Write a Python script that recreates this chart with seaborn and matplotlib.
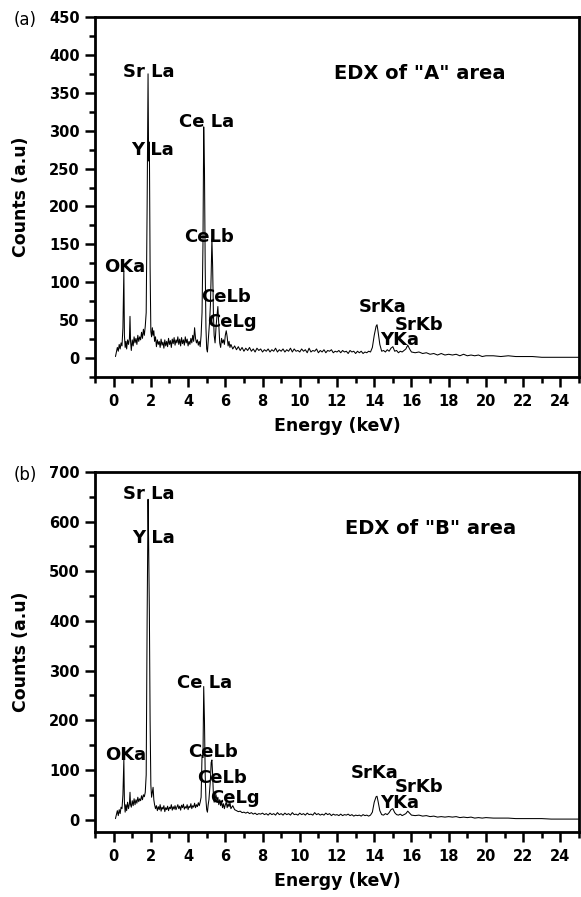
import matplotlib
matplotlib.use('Agg')
import matplotlib.pyplot as plt
from matplotlib.ticker import MultipleLocator
import seaborn as sns

# energy grid (keV), shared by both spectra
energy = [
    0.10, 0.15, 0.20, 0.25, 0.30, 0.35, 0.40, 0.45, 0.50, 0.55,
    0.58, 0.62, 0.66, 0.70, 0.75, 0.80, 0.85, 0.88, 0.91, 0.95,
    1.00, 1.05, 1.10, 1.15, 1.20, 1.25, 1.30, 1.35, 1.40, 1.45,
    1.50, 1.55, 1.60, 1.65, 1.70, 1.75, 1.80, 1.85, 1.88, 1.92,
    1.96, 2.00, 2.04, 2.08, 2.12, 2.16, 2.20, 2.25, 2.30, 2.35,
    2.40, 2.45, 2.50, 2.55, 2.60, 2.65, 2.70, 2.75, 2.80, 2.85,
    2.90, 2.95, 3.00, 3.05, 3.10, 3.15, 3.20, 3.25, 3.30, 3.35,
    3.40, 3.45, 3.50, 3.55, 3.60, 3.65, 3.70, 3.75, 3.80, 3.85,
    3.90, 3.95, 4.00, 4.05, 4.10, 4.15, 4.20, 4.25, 4.30, 4.35,
    4.40, 4.45, 4.50, 4.55, 4.60, 4.65, 4.70, 4.75, 4.80, 4.84,
    4.88, 4.92, 4.96, 5.00, 5.04, 5.08, 5.12, 5.16, 5.20, 5.24,
    5.28, 5.32, 5.36, 5.40, 5.45, 5.50, 5.55, 5.60, 5.65, 5.70,
    5.75, 5.80, 5.85, 5.90, 5.95, 6.00, 6.05, 6.10, 6.15, 6.20,
    6.25, 6.30, 6.40, 6.50, 6.60, 6.70, 6.80, 6.90, 7.00, 7.10,
    7.20, 7.30, 7.40, 7.50, 7.60, 7.70, 7.80, 7.90, 8.00, 8.10,
    8.20, 8.30, 8.40, 8.50, 8.60, 8.70, 8.80, 8.90, 9.00, 9.10,
    9.20, 9.30, 9.40, 9.50, 9.60, 9.70, 9.80, 9.90, 10.00, 10.10,
    10.20, 10.30, 10.40, 10.50, 10.60, 10.70, 10.80, 10.90, 11.00, 11.10,
    11.20, 11.30, 11.40, 11.50, 11.60, 11.70, 11.80, 11.90, 12.00, 12.10,
    12.20, 12.30, 12.40, 12.50, 12.60, 12.70, 12.80, 12.90, 13.00, 13.10,
    13.20, 13.30, 13.40, 13.50, 13.60, 13.70, 13.80, 13.90, 14.00, 14.10,
    14.15, 14.20, 14.30, 14.40, 14.50, 14.60, 14.70, 14.80, 14.90, 15.00,
    15.10, 15.20, 15.30, 15.40, 15.50, 15.60, 15.70, 15.80, 15.90, 16.00,
    16.20, 16.40, 16.60, 16.80, 17.00, 17.20, 17.40, 17.60, 17.80, 18.00,
    18.20, 18.40, 18.60, 18.80, 19.00, 19.20, 19.40, 19.60, 19.80, 20.00,
    20.40, 20.80, 21.20, 21.60, 22.00, 22.50, 23.00, 23.50, 24.00, 25.00,
]

# counts
counts_a = [
    2, 8, 14, 9, 18, 12, 20, 16, 40, 115,
    30, 14, 22, 12, 24, 18, 26, 55, 22, 10,
    24, 16, 28, 20, 26, 18, 30, 22, 28, 24,
    34, 26, 38, 30, 42, 60, 200, 375, 260, 285,
    120, 35, 28, 40, 30, 36, 22, 28, 15, 24,
    18, 22, 14, 25, 17, 21, 13, 24, 16, 22,
    15, 26, 18, 23, 14, 25, 19, 27, 17, 24,
    20, 28, 18, 25, 16, 27, 19, 24, 17, 28,
    20, 25, 16, 22, 18, 26, 20, 30, 22, 40,
    26, 20, 24, 17, 22, 15, 30, 60, 150, 305,
    250, 120, 40, 12, 8, 22, 35, 50, 70, 110,
    157, 120, 60, 30, 20, 40, 55, 68, 45, 20,
    14, 26, 20, 24, 18, 30, 36, 28, 16, 22,
    14, 18, 12, 16, 11, 15, 10, 14, 9, 13,
    10, 14, 9, 12, 8, 13, 10, 12, 8, 11,
    9, 12, 8, 11, 9, 13, 8, 11, 9, 12,
    8, 11, 9, 13, 8, 12, 9, 10, 8, 12,
    9, 11, 7, 13, 8, 10, 9, 12, 7, 10,
    8, 11, 7, 10, 9, 11, 7, 9, 8, 10,
    7, 10, 8, 9, 6, 10, 8, 9, 6, 9,
    7, 9, 6, 8, 7, 9, 8, 14, 30, 42,
    44, 36, 18, 9, 10, 8, 11, 9, 13, 15,
    9, 10, 7, 9, 8, 10, 12, 17, 12, 8,
    7, 8, 6, 7, 5, 6, 4, 6, 4, 5,
    4, 5, 3, 5, 3, 4, 3, 4, 2, 3,
    3, 2, 3, 2, 2, 2, 1, 1, 1, 1,
]

# counts
counts_b = [
    2, 10, 18, 8, 20, 12, 25, 22, 50, 120,
    35, 15, 30, 18, 35, 22, 32, 55, 30, 25,
    38, 28, 42, 30, 40, 33, 45, 36, 42, 38,
    48, 40, 50, 46, 55, 90, 400, 645, 560, 420,
    200, 70, 45, 55, 65, 40, 30, 22, 28, 18,
    26, 20, 30, 17, 25, 21, 28, 16, 24, 20,
    27, 18, 25, 22, 30, 19, 26, 21, 28, 20,
    25, 30, 22, 27, 19, 29, 24, 31, 21, 26,
    23, 30, 20, 27, 24, 32, 22, 28, 25, 33,
    24, 30, 26, 34, 28, 35, 45, 130, 125, 268,
    200, 90, 40, 20, 15, 30, 40, 60, 80, 115,
    120, 90, 50, 35, 42, 50, 38, 45, 30, 40,
    28, 36, 24, 32, 22, 30, 35, 24, 32, 26,
    34, 22, 28, 20, 18, 16, 17, 14, 15, 13,
    15, 12, 14, 11, 13, 10, 12, 11, 13, 10,
    12, 9, 13, 10, 12, 9, 14, 10, 12, 9,
    13, 10, 12, 9, 14, 10, 11, 9, 13, 10,
    12, 9, 13, 10, 11, 9, 14, 10, 12, 9,
    11, 9, 13, 10, 12, 8, 11, 9, 10, 8,
    11, 8, 10, 9, 11, 8, 10, 7, 9, 8,
    9, 7, 10, 8, 9, 7, 9, 15, 35, 46,
    47, 38, 18, 10, 9, 12, 10, 14, 20, 22,
    14, 10, 9, 11, 8, 10, 12, 17, 13, 9,
    8, 9, 7, 8, 6, 7, 5, 6, 5, 6,
    5, 6, 4, 5, 4, 5, 3, 4, 3, 4,
    3, 3, 3, 2, 2, 2, 2, 1, 1, 1,
]

# peak labels: text, x (keV), y (counts)
labels_a = ['Sr La', 'Y La', 'Ce La', 'CeLb', 'OKa', 'CeLb', 'CeLg', 'SrKa', 'SrKb', 'YKa']
lab_x_a = [1.90, 2.09, 4.98, 5.14, 0.57, 6.06, 6.37, 14.44, 16.43, 15.38]
lab_y_a = [378, 274, 312, 160, 120, 81, 47, 68, 44, 24]

labels_b = ['Sr La', 'Y La', 'Ce La', 'CeLb', 'OKa', 'CeLb', 'CeLg', 'SrKa', 'SrKb', 'YKa']
lab_x_b = [1.90, 2.13, 4.89, 5.36, 0.67, 5.82, 6.53, 14.03, 16.43, 15.38]
lab_y_b = [655, 568, 275, 136, 131, 84, 44, 94, 65, 34]

titles = ['EDX of "A" area', 'EDX of "B" area']
title_x = [16.45, 17.02]
title_y = [376, 587]
panel_tags = ['(a)', '(b)']
ymax = [450, 700]
ystep = [50, 100]

sns.set_style('ticks')
plt.rcParams['font.family'] = ['DejaVu Sans']
plt.rcParams.update({'text.color': 'black', 'axes.labelcolor': 'black',
                     'xtick.color': 'black', 'ytick.color': 'black',
                     'axes.edgecolor': 'black'})

fig = plt.figure(figsize=(5.81, 8.97), dpi=100)
ax1 = fig.add_axes([95/581, 1-377/897, 484/581, 360/897])
ax2 = fig.add_axes([95/581, 1-832/897, 484/581, 360/897])

spectra = [counts_a, counts_b]
labs = [(labels_a, lab_x_a, lab_y_a), (labels_b, lab_x_b, lab_y_b)]
tag_y = [0.978, 0.4705]

for i, ax in enumerate([ax1, ax2]):
    sns.lineplot(x=energy, y=spectra[i], ax=ax, color='black', lw=0.75,
                 estimator=None, sort=False)
    ax.set_xlim(-1, 25)
    ax.set_ylim(-25, ymax[i])
    ax.xaxis.set_major_locator(MultipleLocator(2))
    ax.xaxis.set_minor_locator(MultipleLocator(1))
    ax.yaxis.set_major_locator(MultipleLocator(ystep[i]))
    ax.yaxis.set_minor_locator(MultipleLocator(ystep[i] / 2))
    ax.tick_params(which='major', direction='out', length=7, width=1.8,
                   labelsize=10.5, pad=4)
    ax.tick_params(which='minor', direction='out', length=4, width=1.8)
    ax.tick_params(axis='x', which='major', pad=5)
    for lab in ax.get_xticklabels() + ax.get_yticklabels():
        lab.set_fontweight('bold')
    for sp in ax.spines.values():
        sp.set_linewidth(2)
        sp.set_color('black')
    ax.set_xlabel('Energy (keV)', fontsize=12.5, fontweight='bold', labelpad=6)
    ax.set_ylabel('Counts (a.u)', fontsize=12.5, fontweight='bold')
    ax.yaxis.set_label_coords(-0.135, 0.5)

    txt, xs, ys = labs[i]
    for t, x, y in zip(txt, xs, ys):
        ax.text(x, y, t, ha='center', va='center', fontsize=13, fontweight='bold')
    ax.text(title_x[i], title_y[i], titles[i], ha='center', va='center',
            fontsize=14, fontweight='bold')
    fig.text(0.043, tag_y[i], panel_tags[i], ha='center', va='center', fontsize=12)

fig.savefig('out.png', dpi=100)
